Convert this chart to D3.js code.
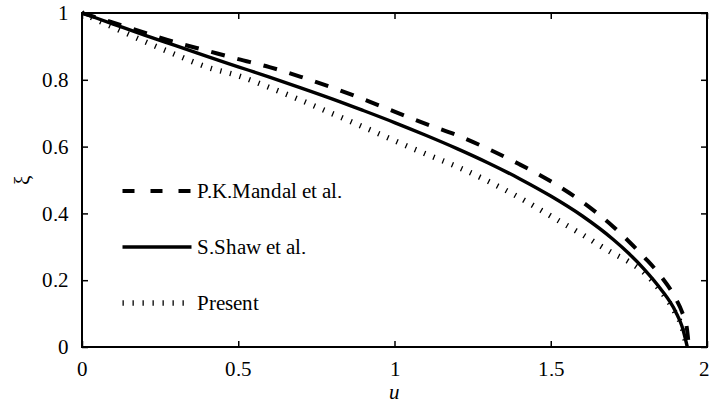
<!DOCTYPE html>
<html>
<head>
<meta charset="utf-8">
<script src="https://cdn.jsdelivr.net/npm/d3@7"></script>
<style>
  @font-face {
    font-family: "ChartSerif";
    src: local("Liberation Serif"), local("LiberationSerif"), local("LiberationSerif-Regular"),
         local("Times New Roman"), local("DejaVu Serif"), local("DejaVuSerif");
    font-style: normal;
  }
  @font-face {
    font-family: "ChartSerif";
    src: local("Liberation Serif Italic"), local("LiberationSerif-Italic"),
         local("Times New Roman Italic"), local("DejaVu Serif Italic"), local("DejaVuSerif-Italic");
    font-style: italic;
  }
  html, body { margin: 0; padding: 0; background: #fff; }
  svg text { font-family: "ChartSerif", "Liberation Serif", "DejaVu Serif", "Times New Roman", serif; fill: #000; }
</style>
</head>
<body>
<svg id="chart" width="710" height="406"></svg>
<script>
// Interface position u (x) against dimensionless boundary ξ (y) for three studies
const uMandal = [0, 0.1, 0.2, 0.3, 0.4, 0.5, 0.6, 0.7, 0.8, 0.9, 1.0, 1.1, 1.2, 1.3, 1.4, 1.5, 1.6, 1.7, 1.75, 1.8, 1.85, 1.9, 1.92, 1.935, 1.942];
const xiMandal = [1, 0.971, 0.941, 0.912, 0.887, 0.862, 0.838, 0.809, 0.777, 0.742, 0.705, 0.668, 0.634, 0.593, 0.547, 0.496, 0.435, 0.36, 0.316, 0.268, 0.215, 0.145, 0.105, 0.06, 0];

const uShaw = [0, 0.1, 0.2, 0.3, 0.4, 0.5, 0.6, 0.7, 0.8, 0.9, 1.0, 1.1, 1.2, 1.3, 1.4, 1.5, 1.6, 1.7, 1.75, 1.8, 1.85, 1.9, 1.92, 1.937];
const xiShaw = [1, 0.967, 0.934, 0.902, 0.870, 0.839, 0.808, 0.776, 0.743, 0.708, 0.672, 0.634, 0.594, 0.551, 0.504, 0.452, 0.393, 0.322, 0.28, 0.232, 0.176, 0.105, 0.062, 0];

const uPresent = [0, 0.1, 0.2, 0.3, 0.4, 0.5, 0.6, 0.7, 0.8, 0.9, 1.0, 1.1, 1.2, 1.3, 1.4, 1.5, 1.6, 1.7, 1.75, 1.8, 1.85, 1.9, 1.92, 1.935];
const xiPresent = [1, 0.957, 0.915, 0.875, 0.838, 0.812, 0.777, 0.739, 0.699, 0.659, 0.618, 0.578, 0.540, 0.496, 0.447, 0.392, 0.337, 0.28, 0.255, 0.222, 0.17, 0.1, 0.06, 0];

const xTicks = [0, 0.5, 1, 1.5, 2];
const yTicks = [0, 0.2, 0.4, 0.6, 0.8, 1];

const seriesNames = ["P.K.Mandal et al.", "S.Shaw et al.", "Present"];

const serif = '"ChartSerif", "Liberation Serif", "DejaVu Serif", "Times New Roman", serif';
const svg = d3.select("#chart");
const plotLeft = 82, plotRight = 707, plotTop = 13, plotBottom = 347;

const x = d3.scaleLinear().domain([0, 2]).range([plotLeft, plotRight]);
const y = d3.scaleLinear().domain([0, 1]).range([plotBottom, plotTop]);

const fmt = d => d3.format("")(d);

// Axes: ticks point inward, mirrored on the top and right edges
const tickLen = 6;
const gBottom = svg.append("g").attr("transform", `translate(0,${plotBottom})`)
  .call(d3.axisBottom(x).tickValues(xTicks).tickFormat(fmt).tickSizeInner(-tickLen).tickSizeOuter(0).tickPadding(14));
const gTop = svg.append("g").attr("transform", `translate(0,${plotTop})`)
  .call(d3.axisTop(x).tickValues(xTicks).tickFormat("").tickSizeInner(-tickLen).tickSizeOuter(0));
const gLeft = svg.append("g").attr("transform", `translate(${plotLeft},0)`)
  .call(d3.axisLeft(y).tickValues(yTicks).tickFormat(fmt).tickSizeInner(-tickLen).tickSizeOuter(0).tickPadding(13));
const gRight = svg.append("g").attr("transform", `translate(${plotRight},0)`)
  .call(d3.axisRight(y).tickValues(yTicks).tickFormat("").tickSizeInner(-tickLen).tickSizeOuter(0));

[gBottom, gTop, gLeft, gRight].forEach(g => {
  g.attr("font-family", serif);
  g.select(".domain").remove();
  g.selectAll(".tick line").attr("stroke", "#000").attr("stroke-width", 1.5);
  g.selectAll(".tick text").attr("font-size", 21).style("font-family", serif).attr("fill", "#000");
});
gBottom.selectAll(".tick text").attr("dy", "0.71em");
// the last x label sits against the window edge; nudge it inside
gBottom.selectAll(".tick text").filter(d => d === 2).attr("text-anchor", "end").attr("dx", 2);

// Plot frame
svg.append("rect")
  .attr("x", plotLeft).attr("y", plotTop)
  .attr("width", plotRight - plotLeft).attr("height", plotBottom - plotTop)
  .attr("fill", "none").attr("stroke", "#000").attr("stroke-width", 2);

// Curves
const line = d3.line().x(d => x(d[0])).y(d => y(d[1])).curve(d3.curveMonotoneX);
const zip = (a, b) => a.map((v, i) => [v, b[i]]);

const styles = [
  { dash: "14,13", width: 4 },
  { dash: null, width: 3.4 },
  { dash: "1.3,8.7", width: 5.5 }
];
const data = [zip(uMandal, xiMandal), zip(uShaw, xiShaw), zip(uPresent, xiPresent)];

data.forEach((pts, i) => {
  const p = svg.append("path")
    .attr("d", line(pts))
    .attr("fill", "none")
    .attr("stroke", "#000")
    .attr("stroke-width", styles[i].width)
    .attr("stroke-linecap", "butt")
    .attr("stroke-linejoin", "round");
  if (styles[i].dash) p.attr("stroke-dasharray", styles[i].dash);
});

// Legend
const legendRows = [191, 247, 303];
const legendDash = ["12,16", null, "1.3,8.7"];
seriesNames.forEach((name, i) => {
  const ly = legendRows[i];
  const l = svg.append("line")
    .attr("x1", 122.5).attr("x2", 191.5)
    .attr("y1", ly).attr("y2", ly)
    .attr("stroke", "#000")
    .attr("stroke-width", styles[i].width)
    .attr("stroke-linecap", "butt");
  if (legendDash[i]) l.attr("stroke-dasharray", legendDash[i]);
  svg.append("text")
    .attr("x", 197).attr("y", ly + 7)
    .attr("font-size", 21)
    .style("font-family", serif)
    .text(name);
});

// Axis titles
svg.append("text")
  .attr("x", (plotLeft + plotRight) / 2).attr("y", 399)
  .attr("text-anchor", "middle")
  .attr("font-size", 21)
  .attr("font-style", "italic")
  .style("font-family", serif)
  .text("u");

svg.append("text")
  .attr("transform", `translate(29,${(plotTop + plotBottom) / 2}) rotate(-90)`)
  .attr("text-anchor", "middle")
  .attr("font-size", 21)
  .style("font-family", serif)
  .text("ξ");
</script>
</body>
</html>
